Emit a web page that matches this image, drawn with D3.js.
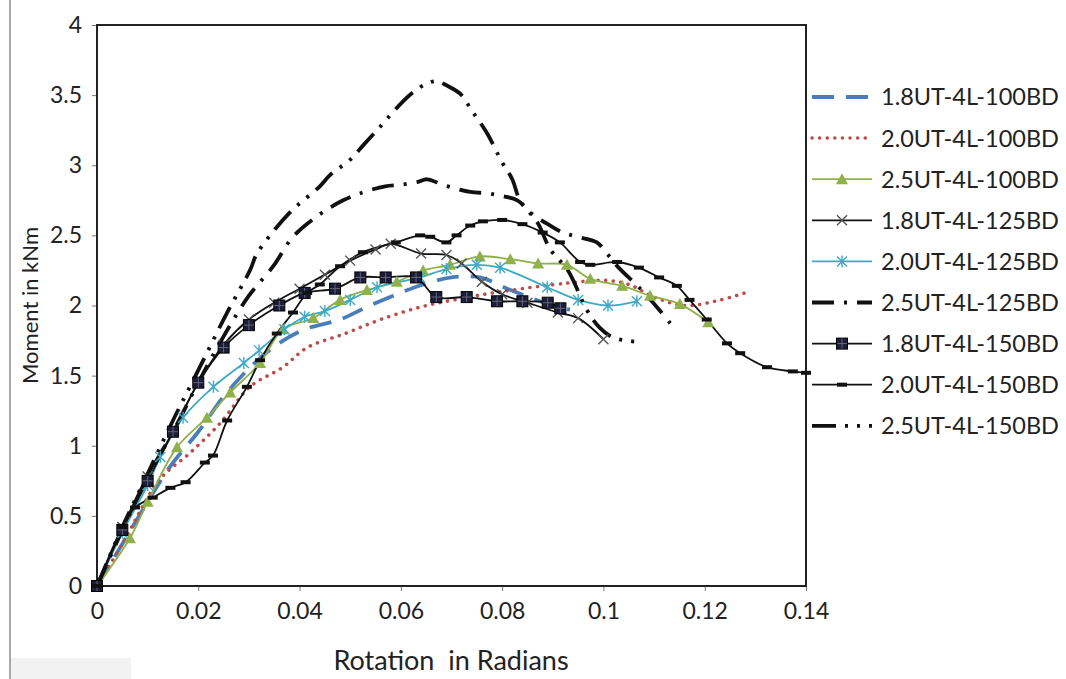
<!DOCTYPE html>
<html>
<head>
<meta charset="utf-8">
<script src="https://cdn.jsdelivr.net/npm/d3@7"></script>
<style>
  body { margin: 0; background: #fff; }
  text { font-family: Lato, "Open Sans", sans-serif; fill: #222; }
</style>
</head>
<body>
<div id="chart"></div>
<script>
// Datos (rotacion en radianes, momento en kNm)
var xTicks = [0, 0.02, 0.04, 0.06, 0.08, 0.1, 0.12, 0.14];
var yTicks = [0, 0.5, 1, 1.5, 2, 2.5, 3, 3.5, 4];

var names = ["1.8UT-4L-100BD", "2.0UT-4L-100BD", "2.5UT-4L-100BD",
             "1.8UT-4L-125BD", "2.0UT-4L-125BD", "2.5UT-4L-125BD",
             "1.8UT-4L-150BD", "2.0UT-4L-150BD", "2.5UT-4L-150BD"];

var s18_100 = [[0,0],[0.005,0.3],[0.01,0.6],[0.0144,0.85],[0.02,1.1],[0.025,1.35],[0.03,1.55],[0.0355,1.72],[0.041,1.83],[0.048,1.9],[0.0533,1.99],[0.0585,2.07],[0.0644,2.15],[0.07,2.2],[0.0756,2.2],[0.081,2.12],[0.086,2.05],[0.0908,1.99],[0.0934,1.97]];
var s20_100 = [[0,0],[0.005,0.3],[0.0124,0.76],[0.0184,0.95],[0.0243,1.16],[0.0302,1.42],[0.0367,1.56],[0.0415,1.7],[0.049,1.8],[0.056,1.9],[0.064,1.99],[0.072,2.05],[0.08,2.1],[0.093,2.16],[0.1,2.18],[0.105,2.15],[0.11,2.06],[0.116,2.0],[0.122,2.03],[0.128,2.09]];
var s25_100 = [[0,0],[0.0065,0.34],[0.01,0.6],[0.0158,0.99],[0.0217,1.2],[0.0263,1.38],[0.0322,1.59],[0.0367,1.83],[0.0427,1.91],[0.048,2.04],[0.0533,2.11],[0.0592,2.17],[0.0644,2.25],[0.0697,2.29],[0.0756,2.35],[0.0816,2.33],[0.0871,2.3],[0.0928,2.29],[0.0974,2.19],[0.1037,2.14],[0.1092,2.07],[0.1151,2.01],[0.1207,1.88]];
var s18_125 = [[0,0],[0.005,0.42],[0.01,0.78],[0.015,1.1],[0.02,1.45],[0.025,1.72],[0.03,1.9],[0.035,2.02],[0.04,2.12],[0.045,2.22],[0.05,2.32],[0.055,2.4],[0.058,2.44],[0.064,2.37],[0.069,2.36],[0.072,2.3],[0.076,2.17],[0.08,2.08],[0.085,2.02],[0.091,1.95],[0.095,1.91],[0.1,1.76]];
var s20_125 = [[0,0],[0.005,0.38],[0.01,0.72],[0.0125,0.92],[0.017,1.2],[0.023,1.42],[0.029,1.59],[0.032,1.68],[0.037,1.83],[0.041,1.92],[0.045,1.96],[0.05,2.04],[0.0553,2.13],[0.0638,2.2],[0.069,2.26],[0.075,2.29],[0.0796,2.27],[0.0889,2.13],[0.095,2.04],[0.1009,2.0],[0.1066,2.03]];
var s25_125 = [[0,0],[0.005,0.4],[0.01,0.78],[0.015,1.1],[0.02,1.45],[0.025,1.78],[0.03,2.07],[0.0348,2.28],[0.0387,2.49],[0.044,2.65],[0.0486,2.75],[0.052,2.8],[0.0569,2.85],[0.0598,2.86],[0.0632,2.88],[0.0652,2.9],[0.0683,2.86],[0.0737,2.81],[0.077,2.8],[0.08,2.78],[0.083,2.75],[0.086,2.65],[0.0895,2.57],[0.092,2.52],[0.0948,2.49],[0.0987,2.45],[0.1007,2.37],[0.103,2.27],[0.107,2.13],[0.111,1.97],[0.1135,1.86]];
var s18_150 = [[0,0],[0.005,0.4],[0.01,0.75],[0.015,1.1],[0.02,1.45],[0.025,1.7],[0.03,1.86],[0.036,2.0],[0.041,2.09],[0.047,2.12],[0.052,2.2],[0.057,2.2],[0.063,2.2],[0.067,2.06],[0.073,2.06],[0.079,2.03],[0.084,2.03],[0.089,2.02],[0.0915,1.98]];
var s20_150 = [[0,0],[0.005,0.42],[0.0075,0.56],[0.011,0.63],[0.0145,0.7],[0.0175,0.74],[0.0213,0.88],[0.0229,0.93],[0.0257,1.18],[0.0296,1.42],[0.0322,1.61],[0.0355,1.8],[0.0387,1.95],[0.0415,2.09],[0.044,2.15],[0.048,2.28],[0.0525,2.38],[0.059,2.45],[0.0638,2.5],[0.0658,2.49],[0.069,2.45],[0.071,2.5],[0.0737,2.57],[0.0762,2.6],[0.08,2.61],[0.084,2.58],[0.088,2.52],[0.0914,2.45],[0.0954,2.31],[0.0974,2.29],[0.1027,2.31],[0.107,2.27],[0.111,2.2],[0.1145,2.14],[0.117,2.04],[0.1204,1.9],[0.1244,1.73],[0.127,1.66],[0.1323,1.56],[0.1374,1.53],[0.14,1.52]];
var s25_150 = [[0,0],[0.005,0.42],[0.01,0.8],[0.015,1.18],[0.0203,1.56],[0.0257,1.95],[0.0302,2.25],[0.0316,2.37],[0.038,2.66],[0.044,2.85],[0.046,2.93],[0.05,3.04],[0.0525,3.14],[0.0553,3.25],[0.0575,3.34],[0.06,3.44],[0.0624,3.52],[0.065,3.58],[0.0671,3.6],[0.069,3.57],[0.0717,3.51],[0.074,3.39],[0.077,3.23],[0.08,3.02],[0.082,2.9],[0.0835,2.75],[0.087,2.59],[0.0895,2.4],[0.093,2.25],[0.0967,1.97],[0.0993,1.84],[0.102,1.77],[0.107,1.74]];

var series = [s18_100, s20_100, s25_100, s18_125, s20_125, s25_125, s18_150, s20_150, s25_150];

// Estilos de cada serie
var estilos = [
  {color: "#4a7ebb", width: 3.8, dash: "22,12", marker: null},
  {color: "#be4b48", width: 3.5, dash: "0.1,7.5", cap: "round", marker: null},
  {color: "#8fb04b", width: 1.8, dash: null, marker: "triangle"},
  {color: "#111", width: 1.8, dash: null, marker: "cross"},
  {color: "#3fa9c4", width: 1.8, dash: null, marker: "asterisk"},
  {color: "#111", width: 3.8, dash: "22,10,3,10", marker: null},
  {color: "#111", width: 1.8, dash: null, marker: "square"},
  {color: "#111", width: 1.8, dash: null, marker: "bar"},
  {color: "#111", width: 3.8, dash: "24,9,3,9,3,9", marker: null}
];

var width = 1066, height = 679;
var margin = {top: 25, left: 97, right: 260, bottom: 93};

var svg = d3.select("#chart").append("svg")
  .attr("width", width).attr("height", height);

// marco gris de la captura
svg.append("rect").attr("x", 11).attr("y", 658).attr("width", 120).attr("height", 21)
  .attr("fill", "#f2f2f2");
svg.append("line").attr("x1", 10).attr("x2", 10).attr("y1", 0).attr("y2", 679)
  .attr("stroke", "#aaa").attr("stroke-width", 2);

var x = d3.scaleLinear().domain([0, 0.14]).range([margin.left, width - margin.right]);
var y = d3.scaleLinear().domain([0, 4]).range([height - margin.bottom, margin.top]);

// Ejes
var ejeY = svg.append("g").attr("transform", "translate(" + margin.left + ",0)")
  .call(d3.axisLeft(y).tickValues(yTicks).tickSize(5).tickPadding(10).tickFormat(d3.format("")));
var ejeX = svg.append("g").attr("transform", "translate(0," + y(0) + ")")
  .call(d3.axisBottom(x).tickValues(xTicks).tickSize(5).tickPadding(12).tickFormat(d3.format("")));
[ejeY, ejeX].forEach(function(g) {
  g.select(".domain").remove();
  g.selectAll("line").attr("stroke", "#777");
  g.selectAll("text").style("font-size", "23px").style("font-family", "Lato, sans-serif").attr("fill", "#222");
});

// Marco del area del grafico
svg.append("rect")
  .attr("x", x(0)).attr("y", y(4))
  .attr("width", x(0.14) - x(0)).attr("height", y(0) - y(4))
  .attr("fill", "none").attr("stroke", "#222").attr("stroke-width", 2);

// Lineas
var linea = d3.line()
  .x(function(d) { return x(d[0]); })
  .y(function(d) { return y(d[1]); })
  .curve(d3.curveCatmullRom);

var capa = svg.append("g");
series.forEach(function(datos, i) {
  var e = estilos[i];
  capa.append("path")
    .attr("d", linea(datos))
    .attr("fill", "none")
    .attr("stroke", e.color)
    .attr("stroke-width", e.width)
    .attr("stroke-dasharray", e.dash)
    .attr("stroke-linecap", e.cap || "butt");
});

// Marcadores
function marcador(g, tipo, cx, cy, color) {
  if (tipo == "triangle") {
    g.append("path").attr("d", "M" + cx + "," + (cy - 6) + "L" + (cx + 6) + "," + (cy + 5) + "L" + (cx - 6) + "," + (cy + 5) + "Z")
      .attr("fill", color);
  } else if (tipo == "cross") {
    g.append("path").attr("d", "M" + (cx - 5) + "," + (cy - 5) + "L" + (cx + 5) + "," + (cy + 5) + "M" + (cx + 5) + "," + (cy - 5) + "L" + (cx - 5) + "," + (cy + 5))
      .attr("stroke", "#555").attr("stroke-width", 1.4);
  } else if (tipo == "asterisk") {
    g.append("path").attr("d", "M" + (cx - 5) + "," + (cy - 5) + "L" + (cx + 5) + "," + (cy + 5) + "M" + (cx + 5) + "," + (cy - 5) + "L" + (cx - 5) + "," + (cy + 5) + "M" + cx + "," + (cy - 6) + "L" + cx + "," + (cy + 6))
      .attr("stroke", color).attr("stroke-width", 1.4);
  } else if (tipo == "square") {
    g.append("rect").attr("x", cx - 5.5).attr("y", cy - 5.5).attr("width", 11).attr("height", 11)
      .attr("fill", "#1b1d3a").attr("stroke", "#000");
    g.append("path").attr("d", "M" + (cx - 5) + "," + cy + "L" + (cx + 5) + "," + cy + "M" + cx + "," + (cy - 5) + "L" + cx + "," + (cy + 5))
      .attr("stroke", "#667").attr("stroke-width", 1);
  } else if (tipo == "bar") {
    g.append("rect").attr("x", cx - 5).attr("y", cy - 2).attr("width", 10).attr("height", 4)
      .attr("fill", "#111");
  }
}

series.forEach(function(datos, i) {
  var e = estilos[i];
  if (!e.marker) return;
  var g = svg.append("g");
  datos.forEach(function(d) { marcador(g, e.marker, x(d[0]), y(d[1]), e.color); });
});

// Leyenda
var leyenda = svg.append("g");
var ly0 = 97, ldy = 41.1;
names.forEach(function(n, i) {
  var e = estilos[i];
  var ly = ly0 + i * ldy;
  leyenda.append("line")
    .attr("x1", 812).attr("x2", 872).attr("y1", ly).attr("y2", ly)
    .attr("stroke", e.color).attr("stroke-width", e.width)
    .attr("stroke-dasharray", e.dash).attr("stroke-linecap", e.cap || "butt");
  if (e.marker) marcador(leyenda, e.marker, 842, ly, e.color);
  leyenda.append("text").attr("x", 881).attr("y", ly).attr("dy", "0.36em")
    .style("font-size", "23.5px").text(n);
});

// Titulos de ejes
svg.append("text").attr("x", 451).attr("y", 670)
  .attr("text-anchor", "middle").style("font-size", "27px").style("white-space", "pre")
  .text("Rotation  in Radians");
svg.append("text").attr("transform", "translate(38," + y(2) + ") rotate(-90)")
  .attr("text-anchor", "middle").style("font-size", "22px")
  .text("Moment in kNm");
</script>
</body>
</html>
